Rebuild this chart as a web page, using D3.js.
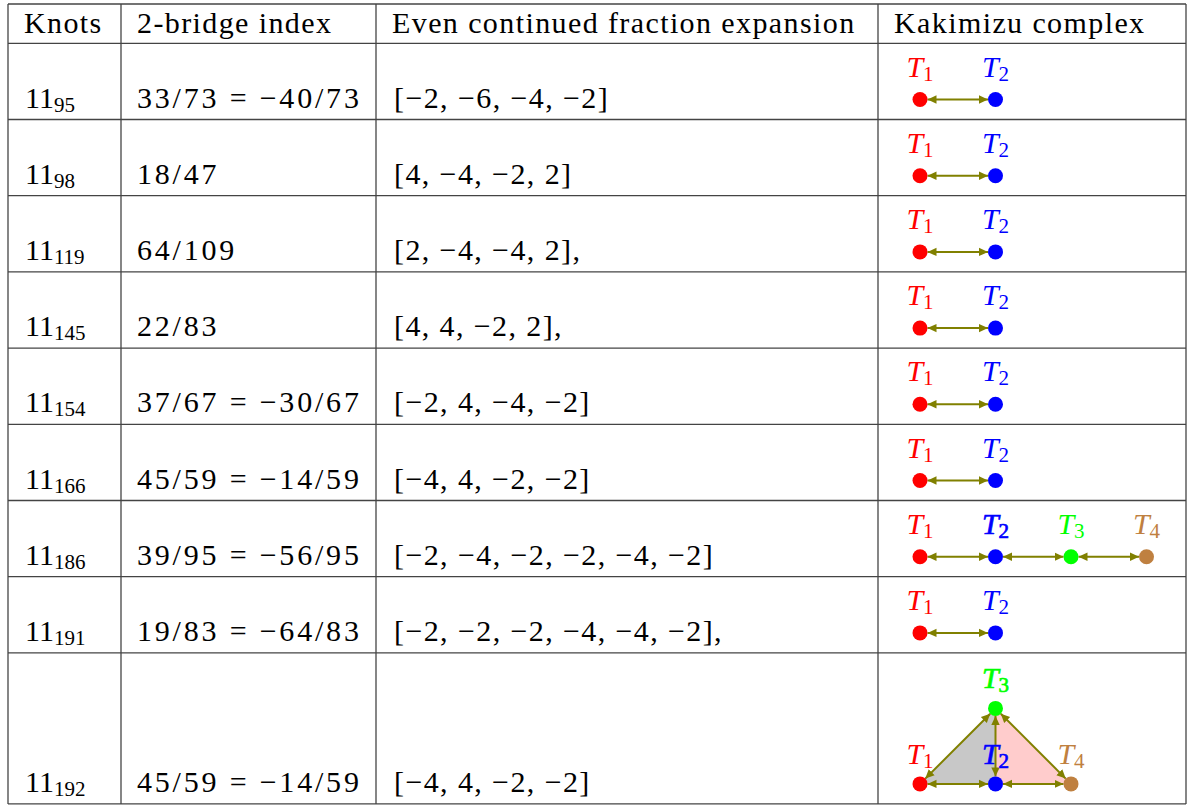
<!DOCTYPE html>
<html><head><meta charset="utf-8"><script src="https://cdn.jsdelivr.net/npm/d3@7"></script></head>
<body style="margin:0">
<script>
// table contents
const headers = ['Knots', '2-bridge index', 'Even continued fraction expansion', 'Kakimizu complex']
const knotSubs = ['95', '98', '119', '145', '154', '166', '186', '191', '192']
const bridgeIndex = [
  '33/73 = \u221240/73', '18/47', '64/109', '22/83', '37/67 = \u221230/67',
  '45/59 = \u221214/59', '39/95 = \u221256/95', '19/83 = \u221264/83', '45/59 = \u221214/59'
]
const fractions = [
  '[\u22122, \u22126, \u22124, \u22122]', '[4, \u22124, \u22122, 2]', '[2, \u22124, \u22124, 2],',
  '[4, 4, \u22122, 2],', '[\u22122, 4, \u22124, \u22122]', '[\u22124, 4, \u22122, \u22122]',
  '[\u22122, \u22124, \u22122, \u22122, \u22124, \u22122]', '[\u22122, \u22122, \u22122, \u22124, \u22124, \u22122],',
  '[\u22124, 4, \u22122, \u22122]'
]
// Kakimizu complexes: vertices on a unit lattice [col, level], edges, 2-cells
const edgeComplex = { verts: [[0, 0], [1, 0]], edges: [[0, 1]], faces: [] }
const pathComplex = { verts: [[0, 0], [1, 0], [2, 0], [3, 0]], edges: [[0, 1], [1, 2], [2, 3]], faces: [] }
const fanComplex = {
  verts: [[0, 0], [1, 0], [1, 1], [2, 0]],
  edges: [[0, 1], [1, 3], [0, 2], [1, 2], [3, 2]],
  faces: [[0, 1, 2], [1, 3, 2]]
}
const complexes = [edgeComplex, edgeComplex, edgeComplex, edgeComplex, edgeComplex, edgeComplex,
  pathComplex, edgeComplex, fanComplex]
const vertexColors = ['#ff0000', '#0000ff', '#00ff00', '#bf8040']
const faceColors = ['#c8c8c8', '#ffcccc']

const width = 1194
const height = 806
const colEdges = [8, 121, 376, 878, 1186]
const tableTop = 4
const headerH = 39.3
const rowH = 76.2
const lastRowH = 151
const fontSize = 30
const subSize = 21

const svg = d3.select('body')
  .append('svg')
  .attr('width', width)
  .attr('height', height)

const rowTops = [tableTop, tableTop + headerH]
knotSubs.forEach((d, i) => {
  rowTops.push(rowTops[rowTops.length - 1] + (i === knotSubs.length - 1 ? lastRowH : rowH))
})
const rowBottom = i => rowTops[i + 2]

// lattice scale for the complexes
const unit = d3.scaleLinear().domain([0, 1]).range([0, 75.5])
const nodeX0 = 920

// triangles
complexes.forEach((c, r) => {
  const y0 = rowBottom(r) - 20
  const px = v => [nodeX0 + unit(v[0]), y0 - unit(v[1])]
  svg.selectAll(null)
    .data(c.faces)
    .enter()
    .append('polygon')
    .attr('points', f => f.map(k => px(c.verts[k]).join(',')).join(' '))
    .attr('fill', (f, i) => faceColors[i])
})

// grid
const grid = svg.append('g').attr('stroke', '#444').attr('stroke-width', 1.3)
rowTops.forEach(y => {
  grid.append('line').attr('x1', colEdges[0]).attr('x2', colEdges[4]).attr('y1', y).attr('y2', y)
})
colEdges.forEach(x => {
  grid.append('line').attr('x1', x).attr('x2', x).attr('y1', rowTops[0]).attr('y2', rowTops[rowTops.length - 1])
})

// header
svg.selectAll('.head')
  .data(headers)
  .enter()
  .append('text')
  .attr('class', 'head')
  .attr('x', (d, i) => colEdges[i] + 16)
  .attr('y', tableTop + 29)
  .attr('font-size', fontSize)
  .attr('letter-spacing', 1.4)
  .style('font-family', "'Liberation Serif'")
  .text(d => d)

// knot names with subscripts
const knots = svg.selectAll('.knot')
  .data(knotSubs)
  .enter()
  .append('text')
  .attr('class', 'knot')
  .attr('x', colEdges[0] + 17)
  .attr('y', (d, i) => rowBottom(i) - 12)
  .attr('font-size', fontSize)
  .style('font-family', "'Liberation Serif'")
knots.append('tspan').text('11')
knots.append('tspan').attr('font-size', subSize).attr('dy', 4).text(d => d)

svg.selectAll('.bridge')
  .data(bridgeIndex)
  .enter()
  .append('text')
  .attr('class', 'bridge')
  .attr('x', colEdges[1] + 16)
  .attr('y', (d, i) => rowBottom(i) - 12)
  .attr('font-size', fontSize)
  .attr('letter-spacing', 2.8)
  .style('font-family', "'Liberation Serif'")
  .text(d => d)

svg.selectAll('.frac')
  .data(fractions)
  .enter()
  .append('text')
  .attr('class', 'frac')
  .attr('x', colEdges[2] + 18)
  .attr('y', (d, i) => rowBottom(i) - 12)
  .attr('font-size', fontSize)
  .attr('letter-spacing', 1.4)
  .style('font-family', "'Liberation Serif'")
  .text(d => d)

// arrowheads
const defs = svg.append('defs')
defs.append('marker')
  .attr('id', 'head')
  .attr('markerUnits', 'userSpaceOnUse')
  .attr('viewBox', '0 -5 9 10')
  .attr('refX', 9)
  .attr('refY', 0)
  .attr('markerWidth', 9)
  .attr('markerHeight', 10)
  .attr('orient', 'auto-start-reverse')
  .append('path')
  .attr('d', 'M0,-4.2 L9,0 L0,4.2 Z')
  .attr('fill', '#808000')

const r = 7.5
complexes.forEach((c, row) => {
  const y0 = rowBottom(row) - 20
  const px = v => [nodeX0 + unit(v[0]), y0 - unit(v[1])]
  const g = svg.append('g')
  // edges
  g.selectAll('line')
    .data(c.edges)
    .enter()
    .append('line')
    .each(function(e) {
      const a = px(c.verts[e[0]])
      const b = px(c.verts[e[1]])
      const dx = b[0] - a[0]
      const dy = b[1] - a[1]
      const len = Math.hypot(dx, dy)
      const ux = dx / len
      const uy = dy / len
      d3.select(this)
        .attr('x1', a[0] + ux * r).attr('y1', a[1] + uy * r)
        .attr('x2', b[0] - ux * r).attr('y2', b[1] - uy * r)
    })
    .attr('stroke', '#808000')
    .attr('stroke-width', 2)
    .attr('marker-start', 'url(#head)')
    .attr('marker-end', 'url(#head)')
  // vertices
  g.selectAll('circle')
    .data(c.verts)
    .enter()
    .append('circle')
    .attr('cx', v => px(v)[0])
    .attr('cy', v => px(v)[1])
    .attr('r', r)
    .attr('fill', (v, i) => vertexColors[i])
  // labels (some are drawn twice in the source, so they look heavier)
  const lift = c.faces.length ? 20 : 23
  const heavy = (row, i) => (row === 6 && i === 1) || (row === 8 && (i === 1 || i === 2))
  const labels = g.selectAll('text')
    .data(c.verts)
    .enter()
    .append('text')
    .attr('x', v => px(v)[0])
    .attr('y', v => px(v)[1] - lift)
    .attr('text-anchor', 'middle')
    .attr('font-size', fontSize)
    .attr('fill', (v, i) => vertexColors[i])
    .attr('stroke', (v, i) => heavy(row, i) ? vertexColors[i] : 'none')
    .attr('stroke-width', 0.7)
    .style('font-family', "'Liberation Serif'")
  labels.append('tspan').attr('font-style', 'italic').text('T')
  labels.append('tspan').attr('font-size', subSize).attr('dy', 4).text((v, i) => i + 1)
})
</script>
</body>
</html>
